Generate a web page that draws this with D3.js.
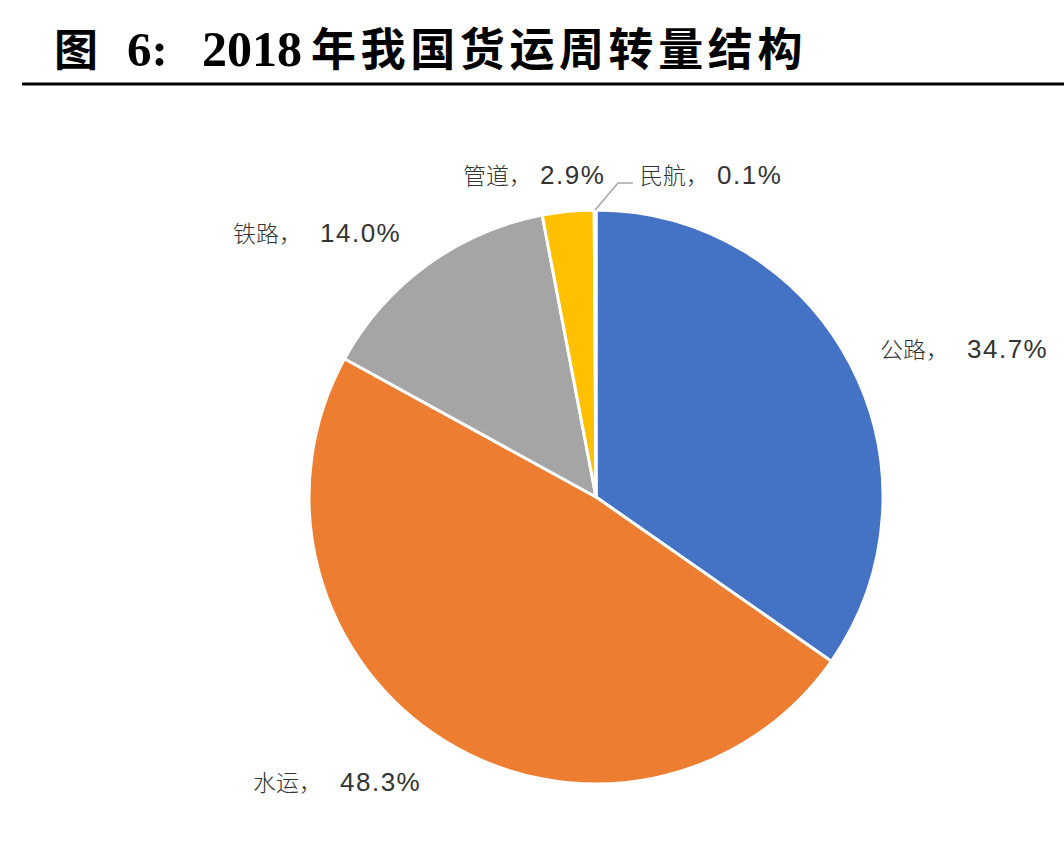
<!DOCTYPE html>
<html><head><meta charset="utf-8">
<script src="https://cdn.jsdelivr.net/npm/d3@7"></script>
<style>body{margin:0;background:#fff;}svg{display:block;}</style>
</head><body>
<svg id="c" width="1064" height="868"></svg>
<script>
const categories = ["公路", "水运", "铁路", "管道", "民航"];
const values = [34.7, 48.3, 14.0, 2.9, 0.1];
const colors = ["#4472C4", "#ED7D31", "#A5A5A5", "#FFC000", "#5B9BD5"];
const titleParts = ["图", "6:", "2018", "年我国货运周转量结构"];

// label layout (left x, baseline y) — layout only
const labelPos = {
  "公路": [880, 358],
  "水运": [253, 791],
  "铁路": [233, 242],
  "管道": [463, 184],
  "民航": [640, 184]
};

const svg = d3.select("#c");
// title
const titleX = [54, 127, 202, 311];
const titleFont = ["'Noto Sans CJK SC'", "'Liberation Serif'", "'Liberation Serif'", "'Noto Sans CJK SC'"];
const titleSize = [44, 49, 50, 45];
titleParts.forEach((s, i) => {
  svg.append("text").attr("x", titleX[i]).attr("y", 66)
    .attr("font-family", titleFont[i]).attr("font-size", titleSize[i])
    .attr("font-weight", "bold").attr("fill", "#000")
    .attr("letter-spacing", i === 3 ? 4.6 : 0)
    .text(s);
});
svg.append("line").attr("x1", 22).attr("x2", 1064).attr("y1", 84).attr("y2", 84)
  .attr("stroke", "#000").attr("stroke-width", 3);

const cx = 596, cy = 497, r = 287;
const g = svg.append("g").attr("transform", `translate(${cx},${cy})`);
const data = categories.map((c, i) => ({name: c, value: values[i], color: colors[i]}));
const pie = d3.pie().sort(null).value(d => d.value);
const arcs = pie(data);
const arc = d3.arc().innerRadius(0).outerRadius(r);
g.selectAll("path").data(arcs).join("path")
  .attr("d", arc).attr("fill", d => d.data.color)
  .attr("stroke", "#fff").attr("stroke-width", 3).attr("stroke-linejoin", "round");

// leader line for 民航
const mh = arcs[4];
const mid = (mh.startAngle + mh.endAngle) / 2;
const p0 = [r * Math.sin(mid), -r * Math.cos(mid)];
const lp = labelPos["民航"];
svg.append("polyline")
  .attr("points", [[cx + p0[0], cy + p0[1]], [lp[0] - 22, lp[1] - 1], [lp[0] - 7, lp[1] - 1]].map(p => p.join(",")).join(" "))
  .attr("fill", "none").attr("stroke", "#A6A6A6").attr("stroke-width", 1.5);

// labels
arcs.forEach(a => {
  const p = labelPos[a.data.name];
  const tx = svg.append("text").attr("x", p[0]).attr("y", p[1]).attr("fill", "#333");
  tx.append("tspan").attr("font-family", "'Noto Sans CJK SC'").attr("font-size", 23).attr("font-weight", 300)
    .text(a.data.name + "，");
  tx.append("tspan").attr("dx", a.data.name === "管道" || a.data.name === "民航" ? 8 : 18)
    .attr("font-family", "'Liberation Sans'").attr("font-size", 26).attr("letter-spacing", 1.5)
    .text(a.data.value.toFixed(1) + "%");
});
</script>
</body></html>
